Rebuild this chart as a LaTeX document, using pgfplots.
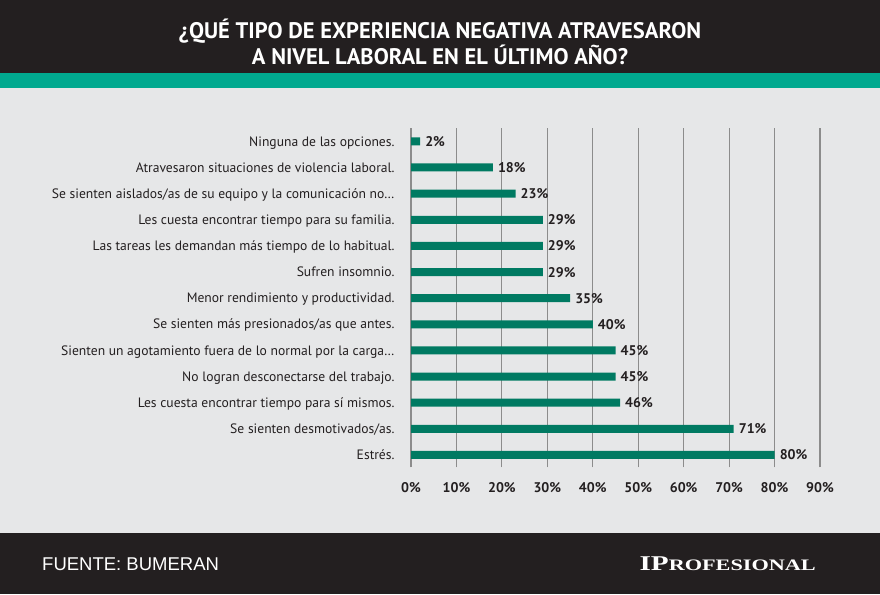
\documentclass[border=0pt]{standalone}
\usepackage{fontspec}
\setmainfont{PT Sans}
\newfontfamily\titlefont[FakeStretch=1.0]{PT Sans Bold}
\newfontfamily\footfont{Liberation Sans}
\newfontfamily\logofont[FakeStretch=1.39]{Liberation Serif Bold}
\usepackage{pgfplots}
\pgfplotsset{compat=1.18}
\definecolor{darkband}{HTML}{231F20}
\definecolor{tealband}{HTML}{00A98F}
\definecolor{bggray}{HTML}{E6E7E8}
\definecolor{barcol}{HTML}{007A62}
\definecolor{gridcol}{HTML}{8C8C8C}
\definecolor{txt}{HTML}{231F20}
\begin{document}
\begin{tikzpicture}[x=1pt,y=1pt]
\fill[bggray] (0,0) rectangle (880,594);
\fill[darkband] (0,521) rectangle (880,594);
\fill[tealband] (0,506) rectangle (880,521);
\fill[darkband] (0,0) rectangle (880,61);
\node[anchor=base, text=white, font=\titlefont\fontsize{22.5}{22.5}\selectfont, inner sep=0pt] at (440,555) {¿QUÉ TIPO DE EXPERIENCIA NEGATIVA ATRAVESARON};
\node[anchor=base, text=white, font=\titlefont\fontsize{22.5}{22.5}\selectfont, inner sep=0pt] at (440,529) {A NIVEL LABORAL EN EL ÚLTIMO AÑO?};
\node[anchor=base west, text=white, font=\footfont\fontsize{18.5}{18.5}\selectfont, inner sep=0pt] at (42,23.5) {FUENTE: BUMERAN};
\node[anchor=base east, text=white, inner sep=0pt] at (816,23.5) {\logofont\fontsize{21}{21}\selectfont IP\fontsize{16}{16}\selectfont ROFESIONAL};
\begin{axis}[
  at={(411pt,126.5pt)}, anchor=south west,
  scale only axis, width=409pt, height=339.2pt,
  xmin=0, xmax=90, ymin=-0.48, ymax=12.5,
  xbar, bar width=8pt,
  axis line style={draw=none},
  tick style={draw=none},
  xmajorgrids, major grid style={gridcol, line width=1.2pt},
  xtick={0,10,...,90},
  xticklabel={\pgfmathprintnumber{\tick}\%},
  /pgf/number format/assume math mode=true,
  xticklabel style={font=\bfseries\fontsize{14}{14}\selectfont, text=txt, anchor=base, yshift=-25.5pt},
  ytick={0,...,12},
  yticklabels={Estrés., Se sienten desmotivados/as., Les cuesta encontrar tiempo para sí mismos., No logran desconectarse del trabajo., Sienten un agotamiento fuera de lo normal por la carga…, Se sienten más presionados/as que antes., Menor rendimiento y productividad., Sufren insomnio., Las tareas les demandan más tiempo de lo habitual., Les cuesta encontrar tiempo para su familia., Se sienten aislados/as de su equipo y la comunicación no…, Atravesaron situaciones de violencia laboral., Ninguna de las opciones.},
  yticklabel style={font=\fontsize{13.6}{13.6}\selectfont, text=txt, anchor=base east, inner sep=0pt, xshift=-12pt, yshift=-4.7pt},
  nodes near coords={\pgfmathprintnumber{\pgfplotspointmeta}\%},
  nodes near coords style={font=\bfseries\fontsize{14}{14}\selectfont, text=txt, anchor=base west, inner sep=0pt, xshift=5pt, yshift=-5pt},
]
\addplot[fill=barcol, draw=none] coordinates {
(80,0) (71,1) (46,2) (45,3) (45,4) (40,5) (35,6) (29,7) (29,8) (29,9) (23,10) (18,11) (2,12)
};
\end{axis}
\end{tikzpicture}
\end{document}
